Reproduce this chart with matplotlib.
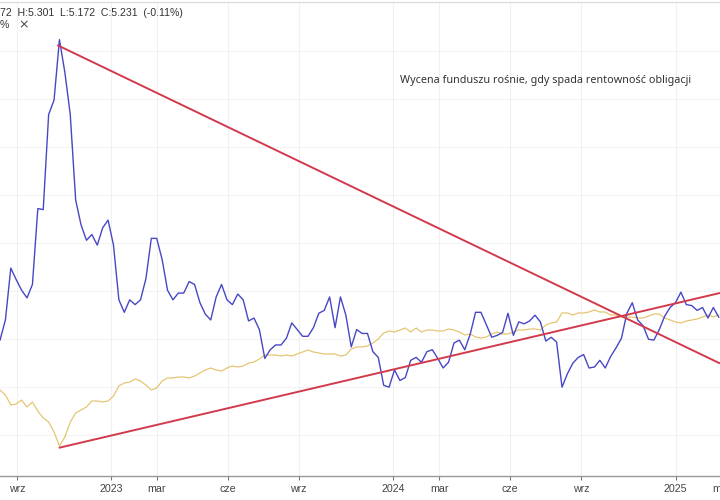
import matplotlib
matplotlib.use("Agg")
import matplotlib.pyplot as plt
import pandas as pd

# ---- data (weekly samples) ----
start = "2022-08-10"

# bond yield (%), blue series
yield_vals = [
    4.99, 5.20, 5.74, 5.62, 5.51, 5.43, 5.57, 6.36, 6.35, 7.34,
    7.49, 8.12, 7.78, 7.34, 6.45, 6.19, 6.03, 6.09, 5.98, 6.16,
    6.24, 5.98, 5.41, 5.28, 5.41, 5.36, 5.41, 5.63, 6.05, 6.05,
    5.83, 5.51, 5.41, 5.48, 5.48, 5.60, 5.57, 5.38, 5.26, 5.20,
    5.44, 5.57, 5.41, 5.36, 5.47, 5.41, 5.19, 5.22, 5.10, 4.80,
    4.89, 4.94, 4.94, 5.01, 5.17, 5.10, 5.03, 5.03, 5.12, 5.27,
    5.30, 5.44, 5.12, 5.44, 5.25, 4.92, 5.10, 5.06, 5.06, 4.87,
    4.81, 4.52, 4.50, 4.68, 4.57, 4.60, 4.78, 4.81, 4.76, 4.87,
    4.89, 4.80, 4.70, 4.76, 4.96, 4.99, 4.89, 5.05, 5.28, 5.28,
    5.15, 5.02, 5.04, 5.07, 5.27, 5.04, 5.18, 5.16, 5.19, 5.25,
    5.18, 4.98, 5.02, 4.97, 4.50, 4.64, 4.75, 4.81, 4.84, 4.70,
    4.71, 4.78, 4.70, 4.82, 4.91, 5.01, 5.27, 5.38, 5.20, 5.14,
    5.00, 4.99, 5.10, 5.24, 5.33, 5.38, 5.49, 5.36, 5.35, 5.30,
    5.33, 5.22, 5.33, 5.23,
]

# fund valuation, yellow series
fund_vals = [
    111.0, 110.5, 109.5, 109.6, 110.0, 109.3, 109.8, 108.9, 108.2, 107.8,
    106.8, 105.4, 106.3, 107.8, 108.7, 109.0, 109.3, 109.9, 109.9, 109.8,
    109.9, 110.4, 111.4, 111.7, 111.8, 112.1, 111.9, 111.5, 111.0, 111.2,
    111.9, 112.2, 112.2, 112.3, 112.3, 112.2, 112.4, 112.7, 113.0, 113.2,
    113.0, 112.9, 113.2, 113.4, 113.3, 113.4, 113.7, 113.8, 114.1, 114.5,
    114.5, 114.5, 114.4, 114.5, 114.4, 114.6, 114.8, 115.0, 114.8, 114.7,
    114.6, 114.6, 114.6, 114.4, 114.5, 115.1, 115.3, 115.3, 115.4, 115.7,
    116.1, 116.7, 116.9, 116.8, 117.0, 117.2, 116.8, 117.2, 116.8, 117.0,
    117.0, 116.9, 116.9, 117.1, 117.0, 116.8, 116.5, 116.6, 116.3, 116.2,
    116.3, 116.6, 116.8, 116.6, 116.6, 116.8, 117.0, 117.0, 117.1, 117.1,
    117.0, 117.5, 117.7, 117.8, 118.7, 118.7, 118.5, 118.7, 118.7, 118.8,
    119.0, 118.8, 118.8, 118.5, 118.5, 118.3, 118.3, 118.3, 118.2, 118.2,
    118.4, 118.6, 118.6, 118.2, 118.0, 117.8, 117.7, 117.9, 118.0, 118.1,
    118.3, 118.5, 118.3, 118.5,
]

# trend lines (in yield units)
trend_down_dates = ["2022-10-24", "2025-02-27"]
trend_down_vals = [8.06, 4.75]
trend_up_dates = ["2022-10-26", "2025-02-27"]
trend_up_vals = [3.87, 5.48]

tick_dates = ["2022-09-01", "2023-01-01", "2023-03-01", "2023-06-01", "2023-09-01",
              "2024-01-01", "2024-03-01", "2024-06-01", "2024-09-01", "2025-01-01",
              "2025-03-01"]
tick_labels = ["wrz", "2023", "mar", "cze", "wrz", "2024", "mar", "cze", "wrz",
               "2025", "mar"]
grid_yields = [4.0, 4.5, 5.0, 5.5, 6.0, 6.5, 7.0, 7.5, 8.0]

header = "72  H:5.301  L:5.172  C:5.231  (-0.11%)"
note = "Wycena funduszu rośnie, gdy spada rentowność obligacji"

# ---- drawing ----
dates = pd.date_range(start, periods=len(yield_vals), freq="7D")
fdates = pd.date_range(start, periods=len(fund_vals), freq="7D")

fig = plt.figure(figsize=(7.2, 5), dpi=100)
ax = fig.add_axes([0, 24 / 500, 724 / 720, 474 / 500])   # blue axis (front)
ax2 = ax.twinx()                                            # fund axis (behind)
ax.set_zorder(2)
ax.patch.set_visible(False)
ax2.set_zorder(1)

x0 = pd.Timestamp(start)
ax.set_xlim(x0, x0 + pd.Timedelta(days=724 / 0.772))
ax.set_ylim(3.575, 8.512)
ax2.set_ylim(102.4, 149.8)

ax2.plot(fdates, fund_vals, color="#e3c36c", lw=0.85)
ax.plot(dates, yield_vals, color="#4747c6", lw=1.0)
ax.plot(pd.to_datetime(trend_down_dates), trend_down_vals, color="#d23a4c", lw=1.4,
        solid_capstyle="round")
ax.plot(pd.to_datetime(trend_up_dates), trend_up_vals, color="#d23a4c", lw=1.4,
        solid_capstyle="round")

for gy in grid_yields:
    ax2.axhline(102.4 + (gy - 3.575) / (8.512 - 3.575) * (149.8 - 102.4),
                color="#f3f3f3", lw=0.8, zorder=0)
for td in tick_dates:
    ax2.axvline(pd.Timestamp(td), color="#f0f0f0", lw=0.8, zorder=0)

ax.set_xticks(pd.to_datetime(tick_dates))
ax.set_xticklabels(tick_labels, family="Liberation Sans")
ax.tick_params(axis="x", length=3, width=0.8, color="#777", labelsize=7.7,
               labelcolor="#444", pad=3)
ax.tick_params(axis="y", left=False, labelleft=False, right=False, labelright=False)
ax2.tick_params(axis="y", left=False, labelleft=False, right=False, labelright=False)
ax2.tick_params(axis="x", bottom=False, labelbottom=False)

for s in ["left", "right"]:
    ax.spines[s].set_visible(False)
    ax2.spines[s].set_visible(False)
ax2.spines["top"].set_visible(False)
ax2.spines["bottom"].set_visible(False)
ax.spines["bottom"].set_color("#999")
ax.spines["bottom"].set_linewidth(1.0)
ax.spines["top"].set_color("#dcdcdc")
ax.spines["top"].set_linewidth(1.0)

fig.text(0.0, 1 - 12.5 / 500, header, fontsize=7.6, color="#333",
         va="center", ha="left", family="Liberation Sans")
fig.text(0.0, 1 - 25 / 500, "%", fontsize=7.6, color="#333",
         va="center", ha="left", family="Liberation Sans")
fig.text(23.5 / 720, 1 - 25 / 500, "×", fontsize=9, color="#444",
         va="center", ha="center", family="DejaVu Sans")
fig.text(400 / 720, 1 - 80 / 500, note, fontsize=7.8, color="#333",
         va="center", ha="left", family="Noto Sans")

fig.savefig("out.png", dpi=100)
